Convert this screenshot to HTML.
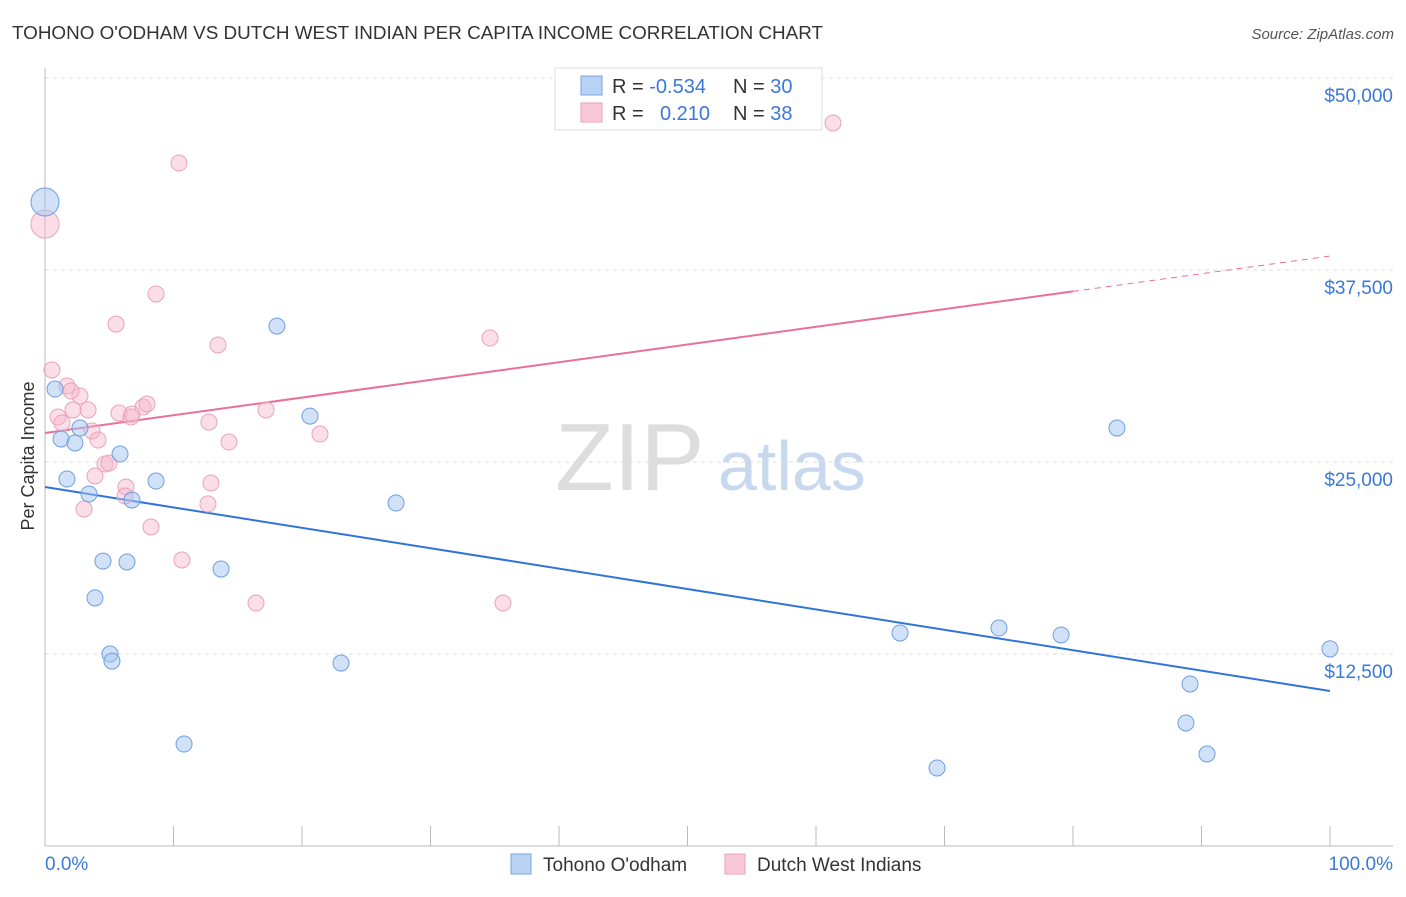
<!DOCTYPE html>
<html><head><meta charset="utf-8"><style>
body{margin:0;background:#fff;font-family:"Liberation Sans",sans-serif;}
svg text{font-family:"Liberation Sans",sans-serif;}
</style></head><body>
<svg id="chart" width="1406" height="892" xmlns="http://www.w3.org/2000/svg">
<text x="12" y="39" font-size="18" fill="#333" textLength="811" lengthAdjust="spacingAndGlyphs">TOHONO O'ODHAM VS DUTCH WEST INDIAN PER CAPITA INCOME CORRELATION CHART</text>
<text x="1394" y="39" font-size="15" fill="#555" text-anchor="end" font-style="italic">Source: ZipAtlas.com</text>
<text x="555" y="490" font-size="96" fill="#ddd" font-family="Liberation Serif">ZIP</text>
<text x="718" y="490" font-size="70" fill="#c8d8ee">atlas</text>
<text transform="translate(34,456) rotate(-90)" font-size="18" fill="#333" text-anchor="middle">Per Capita Income</text>
<g id="grid"></g><g id="ticks"></g><g id="lines"></g><g id="points"></g>
<text x="45" y="870" font-size="19" fill="#3b78d8">0.0%</text>
<text x="1393" y="870" font-size="19" fill="#3b78d8" text-anchor="end">100.0%</text>
<g>
<rect x="555" y="68" width="267" height="62" fill="#fff" stroke="#ddd"/>
<rect x="581" y="76" width="21" height="19" fill="#b8d2f4" stroke="#7aa6e2"/>
<rect x="581" y="103" width="21" height="19" fill="#f9c8d6" stroke="#ec9fb8"/>
<text x="612" y="93" font-size="20" fill="#333">R = <tspan fill="#3b78d8">-0.534</tspan><tspan x="733">N = </tspan><tspan fill="#3b78d8">30</tspan></text>
<text x="612" y="120" font-size="20" fill="#333">R = <tspan x="660" fill="#3b78d8">0.210</tspan><tspan x="733">N = </tspan><tspan fill="#3b78d8">38</tspan></text>
</g>
<g>
<rect x="511" y="854" width="20" height="20" fill="#b8d2f4" stroke="#7aa6e2"/>
<text x="543" y="871" font-size="19" fill="#333">Tohono O'odham</text>
<rect x="725" y="854" width="20" height="20" fill="#f9c8d6" stroke="#ec9fb8"/>
<text x="757" y="871" font-size="19" fill="#333">Dutch West Indians</text>
</g>
</svg>
<script>
const yTicks=[12500,25000,37500,50000];
const yTickLabels=["$12,500","$25,000","$37,500","$50,000"];
const blueX=[0,0.78,1.25,2.33,2.72,1.71,3.42,5.84,6.77,8.64,4.51,6.38,3.89,5.06,5.21,13.7,10.82,18.05,20.62,23.04,27.32,66.54,69.42,74.24,79.07,83.42,88.79,89.11,90.43,100];
const blueY=[41930,29750,26500,26240,27210,23890,22920,25520,22530,23760,18550,18490,16150,12500,12040,18030,6640,33850,27990,11910,22330,13870,5080,14190,13740,27210,8010,10550,5990,12830];
const pinkX=[0,0.54,10.43,8.64,5.53,13.46,34.63,61.32,1.71,1.01,2.18,2.72,3.35,3.66,4.12,1.32,4.67,4.98,3.89,3.04,5.76,6.69,7.63,7.94,6.3,6.23,8.25,12.76,14.32,17.2,21.4,12.92,12.68,10.66,16.42,35.64,2.02,6.77];
const pinkY=[40490,30990,44470,35940,33980,32620,33070,47070,29950,27930,28390,29300,28390,27020,26430,27540,24870,24930,24090,21940,28190,27930,28580,28780,23370,22790,20770,27600,26300,28390,26820,23630,22270,18620,15820,15820,29620,28120];
const blueTrend=[23370,10090];
const pinkTrend=[26890,38410];
const pinkSolidEnd=80;
const NS="http://www.w3.org/2000/svg";
const X=v=>45+v/100*1285, Y=v=>846-v/12500*192;
function mk(t,a,p){const e=document.createElementNS(NS,t);for(const k in a)e.setAttribute(k,a[k]);p.appendChild(e);return e;}
const grid=document.getElementById('grid'),ticks=document.getElementById('ticks'),lines=document.getElementById('lines'),pts=document.getElementById('points');
yTicks.forEach((t,i)=>{
 const l=mk('line',{x1:45,x2:1393,y1:Y(t),y2:Y(t),stroke:'#ddd','stroke-dasharray':'4,4'},grid);
 
 
 const tx=mk('text',{x:1393,y:Y(t)+24,'font-size':19,fill:'#3b78d8','text-anchor':'end'},grid);
 tx.textContent=yTickLabels[i];
 
 
});
const ax=mk('line',{x1:45,x2:45,y1:68,y2:846,stroke:'#bbb'},ticks);


const bx=mk('line',{x1:45,x2:1393,y1:846,y2:846,stroke:'#bbb'},ticks);


for(let i=0;i<=10;i++){const t=mk('line',{x1:X(i*10),x2:X(i*10),y1:826,y2:846,stroke:'#bbb'},ticks);
 
 }
const bl=mk('line',{x1:X(0),y1:Y(blueTrend[0]),x2:X(100),y2:Y(blueTrend[1]),stroke:'#2f74d8','stroke-width':2},lines);


const pv=x=>pinkTrend[0]+(pinkTrend[1]-pinkTrend[0])*x/100;
const pl=mk('line',{x1:X(0),y1:Y(pv(0)),x2:X(pinkSolidEnd),y2:Y(pv(pinkSolidEnd)),stroke:'#e8709a','stroke-width':2},lines);


const pd=mk('line',{x1:X(pinkSolidEnd),y1:Y(pv(pinkSolidEnd)),x2:X(100),y2:Y(pv(100)),stroke:'#e8709a','stroke-width':1,'stroke-dasharray':'6,5'},lines);


function draw(xs,ys,fill,stroke,name){xs.forEach((x,i)=>{
 const c=mk('circle',{cx:X(x),cy:Y(ys[i]),r:i==0?14:8,fill:fill,stroke:stroke,'stroke-width':1},pts);
 
 });}
draw(pinkX,pinkY,'rgba(246,182,204,0.45)','#eaa2bb','dutch-point');
draw(blueX,blueY,'rgba(164,198,242,0.5)','#6f9fe0','tohono-point');
</script>
</body></html>
